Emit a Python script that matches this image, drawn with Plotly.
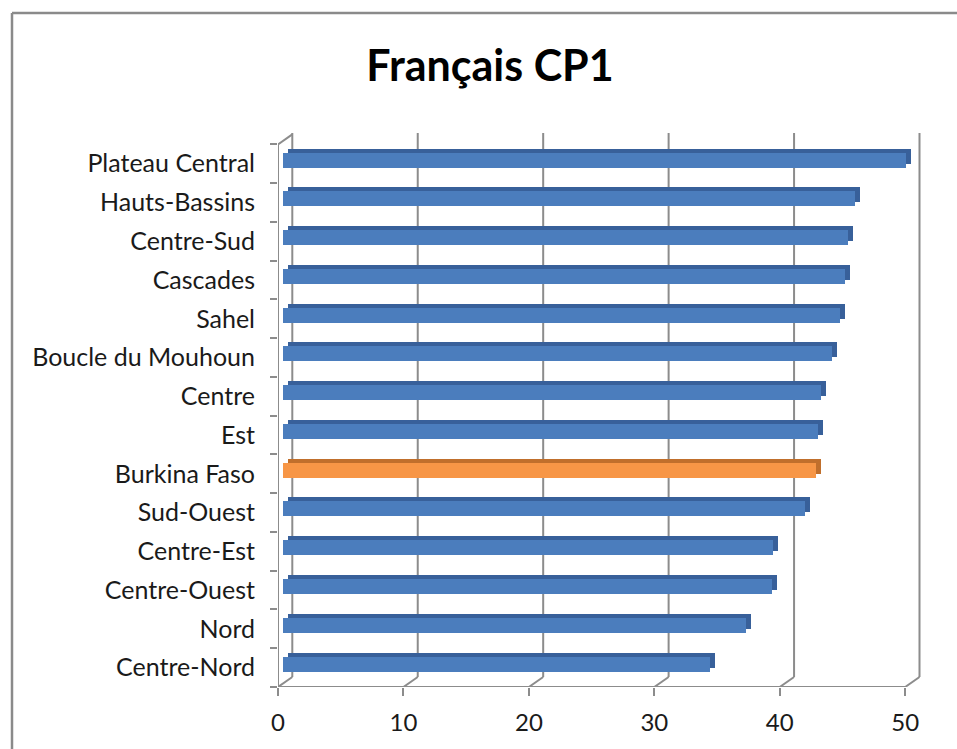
import plotly.graph_objects as go

# ---- data (bottom to top) ----
categories = ["Centre-Nord", "Nord", "Centre-Ouest", "Centre-Est", "Sud-Ouest",
              "Burkina Faso", "Est", "Centre", "Boucle du Mouhoun", "Sahel",
              "Cascades", "Centre-Sud", "Hauts-Bassins", "Plateau Central"]
scores = [34.1, 36.9, 39.0, 39.1, 41.6, 42.5, 42.7, 42.9, 43.8, 44.4,
          44.8, 45.1, 45.6, 49.7]
highlight = "Burkina Faso"
x_ticks = [0, 10, 20, 30, 40, 50]
title_text = "Français CP1"

# ---- geometry (pixels) ----
W, H = 957, 749
L, T = 278, 133
R = W - 921
B = H - 687
pw, ph = W - L - R, H - T - B
k = 12.544                 # px per unit on value axis
cat_px = 38.76             # px per category band
xmax = pw / k
ytop = -0.5 + ph / cat_px
depth_dx, depth_dy = 14.3, 10.0   # back wall offset
bar_dx, bar_dy = 4.7, 3.6         # bar front face offset
face_dx, face_dy = 5.0, 4.0       # bar depth (top / side faces)

front_blue, dark_blue = "#4b7dbd", "#38609a"
front_orange, dark_orange = "#f79646", "#c06f2c"
grid_col = "#8c8c8c"

front_cols = [front_orange if c == highlight else front_blue for c in categories]
dark_cols = [dark_orange if c == highlight else dark_blue for c in categories]

fig = go.Figure()
bar_w = 15.0 / cat_px
# depth (top/side) faces -- drawn first (x2/y2 subplot)
fig.add_trace(go.Bar(y=categories, x=scores, orientation="h",
                     marker=dict(color=dark_cols, line=dict(width=0)),
                     width=bar_w, xaxis="x2", yaxis="y2", hoverinfo="skip",
                     showlegend=False))
# front faces -- drawn on top (x4/y3 subplot)
fig.add_trace(go.Bar(y=categories, x=scores, orientation="h",
                     marker=dict(color=front_cols, line=dict(width=0)),
                     width=bar_w, xaxis="x4", yaxis="y3", showlegend=False))

ax_off = lambda px: px / k
cy_off = lambda px: px / cat_px

shapes = []
line_style = dict(color=grid_col, width=2)
back_bottom = -0.5 + cy_off(depth_dy)
for v in x_ticks:
    shapes.append(dict(type="line", xref="x3", yref="y", x0=v, x1=v,
                       y0=back_bottom, y1=ytop, line=line_style, layer="below"))
    shapes.append(dict(type="line", xref="x", yref="y", x0=v, x1=v + ax_off(depth_dx),
                       y0=-0.5, y1=back_bottom, line=line_style, layer="below"))
shapes.append(dict(type="line", xref="x", yref="y", x0=0, x1=x_ticks[-1],
                   y0=-0.5, y1=-0.5, line=line_style, layer="below"))
top_front = len(categories) - 0.5
shapes.append(dict(type="line", xref="x", yref="y", x0=0, x1=0,
                   y0=-0.5, y1=top_front, line=line_style, layer="below"))
shapes.append(dict(type="line", xref="x", yref="y", x0=0, x1=ax_off(depth_dx),
                   y0=top_front, y1=top_front + cy_off(depth_dy), line=line_style,
                   layer="below"))
# chart area border: left and top edges only (right/bottom fall outside the view)
bx0 = (12 - L) / pw
by1 = 1 + (T - 13) / ph
border = dict(color="#8a8a8a", width=2.5)
shapes.append(dict(type="line", xref="paper", yref="paper", x0=bx0, x1=bx0,
                   y0=-0.4, y1=by1, line=border, layer="below"))
shapes.append(dict(type="line", xref="paper", yref="paper", x0=bx0, x1=1.3,
                   y0=by1, y1=by1, line=border, layer="below"))

font_family = "Lato, 'Open Sans', sans-serif"
hidden = dict(visible=False, showgrid=False, zeroline=False)

fig.update_layout(
    width=W, height=H,
    margin=dict(l=L, r=R, t=T, b=B, pad=0),
    paper_bgcolor="white", plot_bgcolor="rgba(0,0,0,0)",
    title=dict(text="<b>" + title_text + "</b>", x=490 / W, xref="container",
               xanchor="center", y=1 - 66 / H, yref="container", yanchor="middle",
               font=dict(family=font_family, size=43, color="#000000")),
    bargap=0,
    xaxis=dict(range=[0, xmax], tickvals=x_ticks, ticks="outside", ticklen=8,
               tickwidth=2, tickcolor=grid_col, showgrid=False, zeroline=False,
               showline=False, tickfont=dict(family=font_family, size=24, color="#1a1a1a"),
               ticklabelstandoff=6),
    xaxis2=dict(overlaying="x", range=[-ax_off(bar_dx + face_dx), xmax - ax_off(bar_dx + face_dx)], **hidden),
    xaxis3=dict(overlaying="x", range=[-ax_off(depth_dx), xmax - ax_off(depth_dx)], **hidden),
    xaxis4=dict(overlaying="x", range=[-ax_off(bar_dx), xmax - ax_off(bar_dx)], **hidden),
    yaxis=dict(type="category", categoryorder="array", categoryarray=categories,
               range=[-0.5, ytop], ticks="outside", tickson="boundaries", ticklen=7,
               tickwidth=2, tickcolor=grid_col, showgrid=False, zeroline=False,
               showline=False, tickfont=dict(family=font_family, size=25, color="#1a1a1a"),
               ticklabelstandoff=22),
    yaxis2=dict(type="category", categoryorder="array", categoryarray=categories,
                overlaying="y", range=[-0.5 - cy_off(bar_dy + face_dy), ytop - cy_off(bar_dy + face_dy)], **hidden),
    yaxis3=dict(type="category", categoryorder="array", categoryarray=categories,
                overlaying="y", range=[-0.5 - cy_off(bar_dy), ytop - cy_off(bar_dy)], **hidden),
    shapes=shapes,
)

fig.write_html("out.html",
               config={"displayModeBar": False},
               post_script="document.body.style.margin='0';document.body.style.overflow='hidden';")
